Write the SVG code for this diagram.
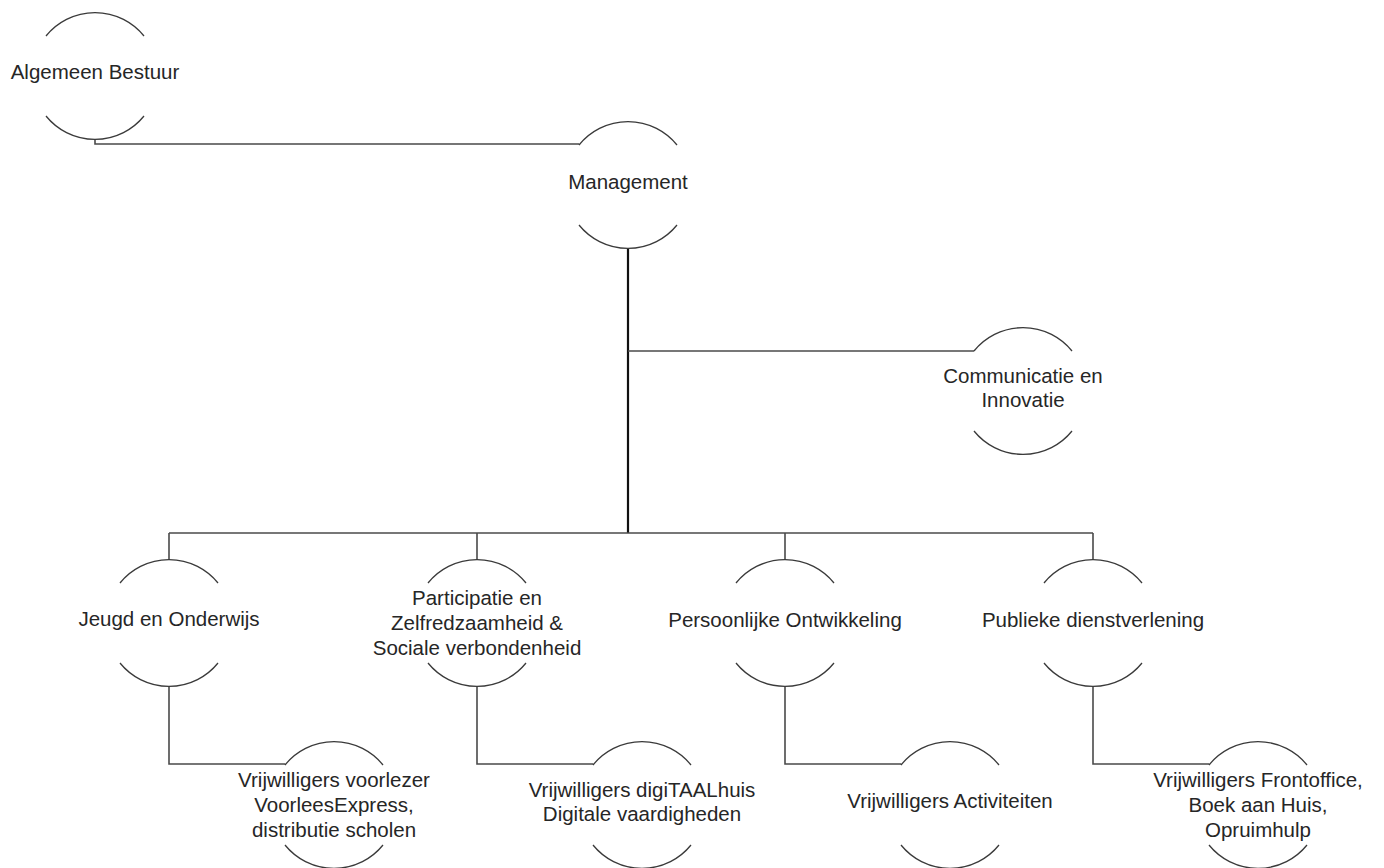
<svg xmlns="http://www.w3.org/2000/svg" width="1384" height="868" viewBox="0 0 1384 868">
<style>
.arc{fill:none;stroke:#3a3a3a;stroke-width:1.3}
.con{fill:none;stroke:#4a4a4a;stroke-width:1.6}
.trunk{fill:none;stroke:#111;stroke-width:2.2}
text{font-family:"Liberation Sans",Arial,sans-serif;font-size:20.5px;fill:#262626;text-anchor:middle}
</style>
<rect width="1384" height="868" fill="#fff"/>
<g id="connectors">
<path class="con" d="M95,139 V144 H579"/>
<path class="trunk" d="M628,248 V533"/>
<path class="con" d="M628,351 H974"/>
<path class="con" d="M169,533 H1093"/>
<path class="con" d="M169,533 V560 M477,533 V560 M785,533 V560 M1093,533 V560"/>
<path class="con" d="M169,686 V764 H285"/>
<path class="con" d="M477,686 V764 H593"/>
<path class="con" d="M785,686 V764 H901"/>
<path class="con" d="M1093,686 V764 H1209"/>
</g>
<g id="n-algemeen">
<path class="arc" d="M46,36 A63,63 0 0 1 144,36 M46,116 A63,63 0 0 0 144,116"/>
<text x="95" y="79">Algemeen Bestuur</text>
</g>
<g id="n-management">
<path class="arc" d="M579,145 A63,63 0 0 1 677,145 M579,225 A63,63 0 0 0 677,225"/>
<text x="628" y="189">Management</text>
</g>
<g id="n-communicatie">
<path class="arc" d="M974,351 A63,63 0 0 1 1072,351 M974,431 A63,63 0 0 0 1072,431"/>
<text x="1023" y="383">Communicatie en</text>
<text x="1023" y="407">Innovatie</text>
</g>
<g id="n-jeugd">
<path class="arc" d="M120,583 A63,63 0 0 1 218,583 M120,663 A63,63 0 0 0 218,663"/>
<text x="169" y="626">Jeugd en Onderwijs</text>
</g>
<g id="n-participatie">
<path class="arc" d="M428,583 A63,63 0 0 1 526,583 M428,663 A63,63 0 0 0 526,663"/>
<text x="477" y="605">Participatie en</text>
<text x="477" y="630">Zelfredzaamheid &amp;</text>
<text x="477" y="655">Sociale verbondenheid</text>
</g>
<g id="n-persoonlijke">
<path class="arc" d="M736,583 A63,63 0 0 1 834,583 M736,663 A63,63 0 0 0 834,663"/>
<text x="785" y="627">Persoonlijke Ontwikkeling</text>
</g>
<g id="n-publieke">
<path class="arc" d="M1044,583 A63,63 0 0 1 1142,583 M1044,663 A63,63 0 0 0 1142,663"/>
<text x="1093" y="627">Publieke dienstverlening</text>
</g>
<g id="n-voorlezer">
<path class="arc" d="M285,765 A63,63 0 0 1 383,765 M285,845 A63,63 0 0 0 383,845"/>
<text x="334" y="787">Vrijwilligers voorlezer</text>
<text x="334" y="812">VoorleesExpress,</text>
<text x="334" y="837">distributie scholen</text>
</g>
<g id="n-digitaal">
<path class="arc" d="M593,765 A63,63 0 0 1 691,765 M593,845 A63,63 0 0 0 691,845"/>
<text x="642" y="797">Vrijwilligers digiTAALhuis</text>
<text x="642" y="821">Digitale vaardigheden</text>
</g>
<g id="n-activiteiten">
<path class="arc" d="M901,765 A63,63 0 0 1 999,765 M901,845 A63,63 0 0 0 999,845"/>
<text x="950" y="808">Vrijwilligers Activiteiten</text>
</g>
<g id="n-frontoffice">
<path class="arc" d="M1209,765 A63,63 0 0 1 1307,765 M1209,845 A63,63 0 0 0 1307,845"/>
<text x="1258" y="787">Vrijwilligers Frontoffice,</text>
<text x="1258" y="812">Boek aan Huis,</text>
<text x="1258" y="837">Opruimhulp</text>
</g>
</svg>
